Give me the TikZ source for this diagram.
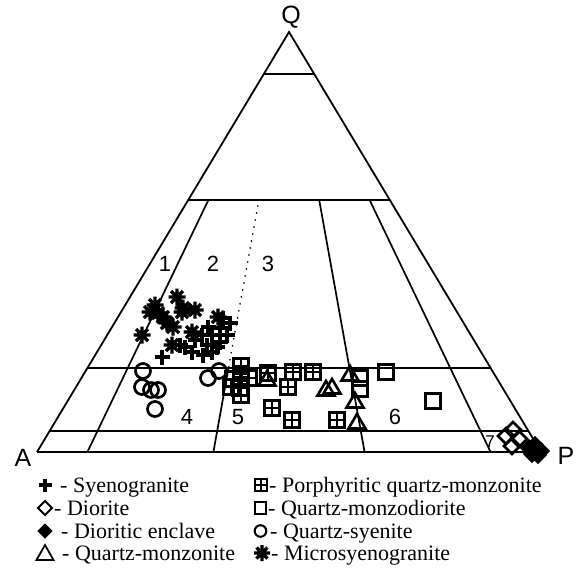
\documentclass[tikz,border=0pt]{standalone}
\usepackage{fontspec}
\setmainfont{Liberation Serif}
\newfontfamily\labfont{Liberation Sans}
\begin{document}
\begin{tikzpicture}[x=1pt,y=-1pt,
  edge/.style={line width=1.8pt},
  hline/.style={line width=2.4pt},
  divline/.style={line width=1.7pt},
  dotline/.style={line width=1.8pt, line cap=round, dash pattern=on 0.1pt off 7pt},
  corner/.style={font=\labfont\fontsize{25}{25}\selectfont, inner sep=0},
  field/.style={font=\labfont\fontsize{22}{22}\selectfont, inner sep=0},
  legtxt/.style={font=\fontsize{22}{22}\selectfont, inner sep=0, anchor=base west},
  pplus/.pic={\draw[line width=3.2pt] (-7.5,0)--(7.5,0) (0,-7.5)--(0,7.5);},
  past/.pic={\draw[line width=3.2pt] (-8.5,0)--(8.5,0) (0,-8.5)--(0,8.5) (-6,-6)--(6,6) (-6,6)--(6,-6);},
  pcirc/.pic={\draw[line width=2.7pt] (0,0) circle[radius=7.5pt];},
  pbox/.pic={\draw[line width=2.7pt] (-7.5,-7.5) rectangle (7.5,7.5); \draw[line width=2.2pt] (-7.5,0)--(7.5,0) (0,-7.5)--(0,7.5);},
  psq/.pic={\draw[line width=2.7pt] (-7.5,-7.5) rectangle (7.5,7.5);},
  ptri/.pic={\draw[line width=2.6pt] (-8.5,6.5)--(8.5,6.5)--(0,-8)--cycle;},
  pdia/.pic={\draw[line width=2.7pt] (0,-8)--(8,0)--(0,8)--(-8,0)--cycle;},
  pdiaf/.pic={\draw[line width=1.5pt, fill=black] (0,-8)--(8,0)--(0,8)--(-8,0)--cycle;}
]
\useasboundingbox (0,0) rectangle (582,570);
% triangle corners
\coordinate (A) at (37,452);
\coordinate (Q) at (289,32);
\coordinate (P) at (541,452);
\draw[edge] (A) -- (Q) -- (P);
\draw[hline] (A) -- (P);
% horizontal lines
\coordinate (h90a) at (263.8,74); \coordinate (h90b) at (314.2,74);
\coordinate (h60a) at (188.2,200); \coordinate (h60b) at (389.8,200);
\coordinate (h20a) at (87.4,368); \coordinate (h20b) at (490.6,368);
\coordinate (h5a) at (49.6,431); \coordinate (h5b) at (528.4,431);
\draw[hline] (h90a) -- (h90b);
\draw[hline] (h60a) -- (h60b);
\draw[hline] (h20a) -- (h20b);
\draw[hline] (h5a) -- (h5b);
% dividing lines
\coordinate (d10t) at (208.4,200); \coordinate (d10b) at (87.4,452);
\coordinate (d35t) at (257.8,206); \coordinate (d35m) at (228.5,368); \coordinate (d35b) at (213.4,452);
\coordinate (d65t) at (319.2,200); \coordinate (d65b) at (364.6,452);
\coordinate (d90t) at (369.6,200); \coordinate (d90b) at (490.6,452);
\draw[divline] (d10t) -- (d10b);
\draw[dotline] (d35t) -- (d35m);
\draw[divline] (d35m) -- (d35b);
\draw[divline] (d65t) -- (d65b);
\draw[divline] (d90t) -- (d90b);
% corner labels
\node[corner] (Qlab) at (291,17) {Q};
\node[corner] (Alab) at (23,458) {A};
\node[corner] (Plab) at (566,456) {P};
% field numbers
\node[field] (f1) at (165,264) {1};
\node[field] (f2) at (213,264) {2};
\node[field] (f3) at (268,264) {3};
\node[field] (f4) at (187,417) {4};
\node[field] (f5) at (238,417) {5};
\node[field] (f6) at (395,417) {6};
\node[field, font=\labfont\fontsize{17}{17}\selectfont] (f7) at (490,442) {7};
% data: quartz-syenite
\foreach \p in {(143,371),(142,387),(151,390),(158,390),(155,409),(208,378),(219,371)}
  \pic at \p {pcirc};
% data: porphyritic quartz-monzonite
\foreach \p in {(241,366),(241,377),(233,379),(249,378),(240,388),(241,395),(231,387),(268,373),(293,372),(288,387),(313,372),(272,408),(292,420),(337,420)}
  \pic at \p {pbox};
% data: quartz-monzodiorite
\foreach \p in {(360,378),(360,389),(386,372),(433,401)}
  \pic at \p {psq};
% data: quartz-monzonite
\foreach \p in {(267,379),(326,389),(332,387),(350,374),(355,401),(357,422)}
  \pic at \p {ptri};
% data: syenogranite
\foreach \p in {(208,327),(220,328),(202,335),(212,335),(227,335),(195,340),(207,345),(220,342),(185,347),(192,352),(203,355),(212,352),(162,357),(223,318),(230,323),(180,345),(217,347)}
  \pic at \p {pplus};
% data: microsyenogranite
\foreach \p in {(177,297),(155,305),(150,312),(158,313),(183,308),(195,310),(218,317),(167,323),(173,327),(192,332),(142,335),(172,345),(182,312),(163,317)}
  \pic at \p {past};
% data: diorite
\foreach \p in {(506,436),(513,430),(519,439),(512,446)}
  \pic at \p {pdia};
% data: dioritic enclave
\foreach \p in {(529,448),(535,445),(541,451),(532,454),(538,455)}
  \pic at \p {pdiaf};
% legend, column 1
\draw[line width=3.2pt] (38.5,485) -- (51.5,485) (45,478.5) -- (45,491.5);
\draw[line width=2pt] (45,501) -- (52,508) -- (45,515) -- (38,508) -- cycle;
\draw[line width=1pt, fill=black] (45,524) -- (52,531) -- (45,538) -- (38,531) -- cycle;
\draw[line width=1.8pt] (36.5,560) -- (53.5,560) -- (45,545) -- cycle;
\node[legtxt] (l1) at (60,492) {- Syenogranite};
\node[legtxt] (l2) at (54,515) {- Diorite};
\node[legtxt] (l3) at (61,538) {- Dioritic enclave};
\node[legtxt] (l4) at (62,560) {- Quartz-monzonite};
% legend, column 2
\draw[line width=1.8pt] (255,479) rectangle (267,491) (255,485) -- (267,485) (261,479) -- (261,491);
\draw[line width=1.8pt] (255,502) rectangle (266,514);
\draw[line width=2pt] (260.5,531) circle[radius=5.8pt];
\draw[line width=3.2pt] (254,553) -- (270,553) (262,545) -- (262,561) (256.5,547.5) -- (267.5,558.5) (256.5,558.5) -- (267.5,547.5);
\node[legtxt] (l5) at (269,492) {- Porphyritic quartz-monzonite};
\node[legtxt] (l6) at (268,515) {- Quartz-monzodiorite};
\node[legtxt] (l7) at (270,538) {- Quartz-syenite};
\node[legtxt] (l8) at (271,560) {- Microsyenogranite};
\end{tikzpicture}
\end{document}
